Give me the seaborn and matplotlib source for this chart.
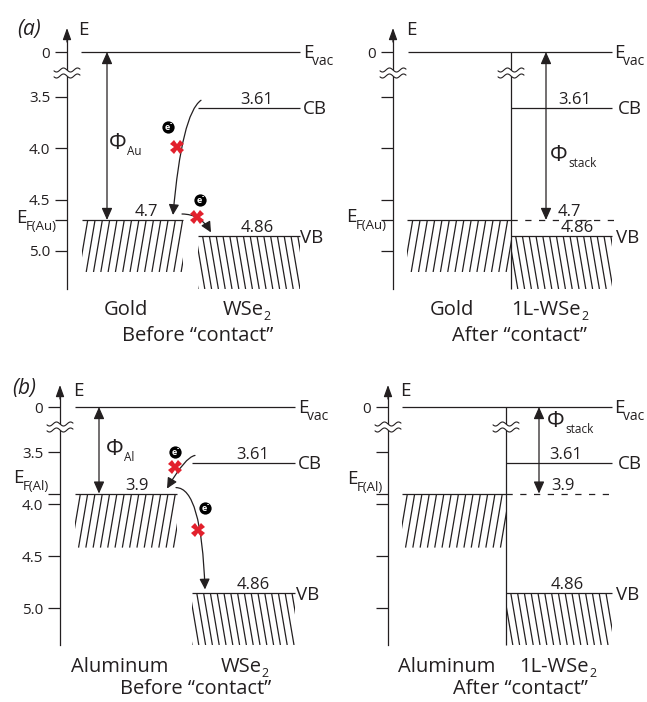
import numpy as np
import matplotlib
matplotlib.use("Agg")
import matplotlib.pyplot as plt
from matplotlib.patches import FancyArrowPatch, Rectangle
from matplotlib.collections import LineCollection
import seaborn as sns

# ---------------- data ----------------
panel_tags = ["(a)", "(b)"]
metals = ["Gold", "Aluminum"]
metal_sub = ["Au", "Al"]
metal_ef = [4.7, 3.9]
metal_ef_labels = ["4.7", "3.9"]
wse2_cb = 3.61
wse2_vb = 4.86
wse2_cb_label = "3.61"
wse2_vb_label = "4.86"
vacuum = 0.0
tick_values = [0.0, 3.5, 4.0, 4.5, 5.0]
tick_labels = ["0", "3.5", "4.0", "4.5", "5.0"]
semi_names = [("WSe", "2"), ("1L-WSe", "2")]
captions = ["Before \u201ccontact\u201d", "After \u201ccontact\u201d"]

# ---------------- style ----------------
sns.set_theme(style="white")
plt.rcParams["font.family"] = ["Open Sans", "DejaVu Sans"]
INK = "#231f20"
RED = "#e2202c"
LW = 0.9

W, H = 647, 702
fig = plt.figure(figsize=(W / 100, H / 100), dpi=100)

ROWS = [
    dict(top=0, bot=330, e35=97, vac=52, scale=102.5, tip=28, axbot=289, brk=73,
         Ecen=30, lab_base=315, cap_base=341, tag=(29, 29), mdepth=52),
    dict(top=330, bot=702, e35=452, vac=407, scale=104.0, tip=385, axbot=645, brk=427,
         Ecen=391, lab_base=672, cap_base=694, tag=(24, 388), mdepth=54),
]

LAYOUT = [
    dict(row=0, after=False, x0=0, x1=323, axis=67, vac=(81, 300), metal=(82, 183), semi=(198, 300),
         phi=107, phi_lab=(109, 149), E_lab=78, evac_lab=303, cb_cx=257, cb_lab=303, vb_cx=257,
         vb_lab=300, ef_lab=16, ef_base=223, ef_val=(146, "center"), metal_cx=126, semi_cx=247,
         cap_cx=198, electrons=[(168, 127), (200, 200)], crosses=[(177, 147), (197, 217)],
         angles=[(35, 85), (0, 120)]),
    dict(row=0, after=True, x0=323, x1=647, axis=393, vac=(408, 612), metal=(407, 511), semi=(511, 612),
         iface=511, dash=(511, 617), phi=546, phi_lab=(550, 161), E_lab=406, evac_lab=614, cb_cx=575,
         cb_lab=618, vb_cx=577, vb_lab=616, ef_lab=346, ef_base=222, ef_val=(558, "left"),
         metal_cx=452, semi_cx=550, cap_cx=519),
    dict(row=1, after=False, x0=0, x1=323, axis=60, vac=(75, 295), metal=(75, 177), semi=(192, 295),
         phi=99, phi_lab=(106, 455), E_lab=73, evac_lab=298, cb_cx=253, cb_lab=298, vb_cx=253,
         vb_lab=296, ef_lab=13, ef_base=483, ef_val=(137, "center"), metal_cx=120, semi_cx=245,
         cap_cx=196, electrons=[(175, 452), (205, 508)], crosses=[(175, 467), (198, 530)],
         angles=[(10, 60), (0, 92)]),
    dict(row=1, after=True, x0=323, x1=647, axis=388, vac=(402, 612), metal=(402, 506), semi=(506, 612),
         iface=506, dash=(506, 612), phi=539, phi_lab=(547, 427), E_lab=400, evac_lab=614, cb_cx=566,
         cb_lab=618, vb_cx=567, vb_lab=616, ef_lab=347, ef_base=484, ef_val=(551, "left"),
         metal_cx=447, semi_cx=558, cap_cx=520),
]


def px2y(py, r):
    return 3.5 + (py - r["e35"]) / r["scale"]


def Y(E, r):
    return px2y(r["vac"], r) if E == 0 else E


def E2px(E, r):
    return r["vac"] if E == 0 else r["e35"] + (E - 3.5) * r["scale"]


def label_sub(ax, r, x, base_px, main, sub, fs, sfs, drop, ha="left", gap=0.0):
    t = ax.text(x, px2y(base_px, r), main, fontsize=fs, ha=ha, va="baseline", color=INK)
    ax.annotate(sub, xy=(1, px2y(base_px + drop, r)), xycoords=(t, "data"),
                xytext=(gap, 0), textcoords="offset points", fontsize=sfs,
                ha="left", va="baseline", color=INK)
    return t


def hatch(ax, r, x0, x1, py_top, depth, lean, spacing):
    slope = 0.17
    shift = slope * depth
    py_bot = py_top + depth
    segs = []
    for xt in np.arange(x0 - shift - spacing, x1 + shift + spacing, spacing):
        segs.append([(xt, px2y(py_top, r)), (xt - lean * shift, px2y(py_bot, r))])
    lc = LineCollection(segs, colors=INK, linewidths=0.9, zorder=2)
    ax.add_collection(lc)
    clip = Rectangle((x0, px2y(py_top, r)), x1 - x0, px2y(py_bot, r) - px2y(py_top, r),
                     transform=ax.transData)
    lc.set_clip_path(clip)


def draw_break(ax, r, x):
    xs = np.linspace(-13, 13, 80)
    w = 2.0 * np.sin(2 * np.pi * xs / 14)
    py = r["brk"]
    y1 = px2y(py - 3 + w, r)
    y2 = px2y(py + 3 + w, r)
    ax.fill_between(x + xs, y1, y2, color="white", lw=0, zorder=5)
    ax.plot(x + xs, y1, color=INK, lw=0.8, zorder=6)
    ax.plot(x + xs, y2, color=INK, lw=0.8, zorder=6)


def electron(ax, r, x, py):
    ax.scatter([x], [px2y(py, r)], s=78, color="black", linewidths=0, zorder=8)
    ax.text(x - 0.5, px2y(py + 0.5, r), "e", color="white", fontsize=6.5, fontweight="bold",
            ha="center", va="center", zorder=9)
    ax.text(x + 2.8, px2y(py - 3.2, r), "-", color="white", fontsize=5, fontweight="bold",
            ha="center", va="center", zorder=9)


for P in LAYOUT:
    r = ROWS[P["row"]]
    k = P["row"]
    ef = metal_ef[k]
    ax = fig.add_axes([P["x0"] / W, 1 - r["bot"] / H, (P["x1"] - P["x0"]) / W, (r["bot"] - r["top"]) / H])
    ax.set_xlim(P["x0"], P["x1"])
    ax.set_ylim(px2y(r["bot"], r), px2y(r["top"], r))
    ax.patch.set_visible(False)
    for s in ax.spines.values():
        s.set_visible(False)
    ax.set_xticks([])

    # energy axis
    sp = ax.spines["left"]
    sp.set_visible(True)
    sp.set_position(("data", P["axis"]))
    sp.set_bounds(px2y(r["axbot"], r), px2y(r["tip"] + 8, r))
    sp.set_color(INK)
    sp.set_linewidth(LW)
    lab_map = dict(zip(tick_values, tick_labels))
    tv = sorted(tick_values + [ef])
    ax.set_yticks([Y(v, r) for v in tv])
    if P["after"]:
        ax.set_yticklabels([lab_map[v] if v == vacuum else "" for v in tv])
    else:
        ax.set_yticklabels([lab_map.get(v, "") for v in tv])
    ax.tick_params(axis="y", direction="out", length=8.6, width=LW, pad=3.5,
                   labelsize=11, colors=INK, left=True)
    ax.annotate("", xy=(P["axis"], px2y(r["tip"], r)), xytext=(P["axis"], px2y(r["tip"] + 14, r)),
                arrowprops=dict(arrowstyle="-|>,head_length=0.5,head_width=0.18", mutation_scale=14,
                                lw=LW, color=INK, shrinkA=0, shrinkB=0))
    ax.text(P["E_lab"], px2y(r["Ecen"], r), "E", fontsize=13.5, color=INK, ha="left", va="center")
    draw_break(ax, r, P["axis"])

    # levels
    ax.hlines(Y(vacuum, r), *P["vac"], color=INK, lw=LW, zorder=3)
    label_sub(ax, r, P["evac_lab"], E2px(vacuum, r) + 6, "E", "vac", 13.5, 10, 7, gap=-0.8)
    ax.hlines(ef, *P["metal"], color=INK, lw=LW, zorder=3)
    hatch(ax, r, P["metal"][0], P["metal"][1], E2px(ef, r), r["mdepth"], +1, 7.3)
    ax.hlines(wse2_cb, *P["semi"], color=INK, lw=LW, zorder=3)
    ax.hlines(wse2_vb, *P["semi"], color=INK, lw=LW, zorder=3)
    hatch(ax, r, P["semi"][0], P["semi"][1], E2px(wse2_vb, r), r["axbot"] - E2px(wse2_vb, r), -1, 6.8)

    if P["after"]:
        ax.vlines(P["iface"], Y(vacuum, r), px2y(r["axbot"], r), color=INK, lw=LW, zorder=3)
        draw_break(ax, r, P["iface"])
        ax.hlines(ef, *P["dash"], color=INK, lw=LW, linestyles=(0, (5, 6)), zorder=3)

    # value labels
    ax.text(P["cb_cx"], px2y(E2px(wse2_cb, r) - 4, r), wse2_cb_label, fontsize=12, color=INK,
            ha="center", va="baseline")
    ax.text(P["vb_cx"], px2y(E2px(wse2_vb, r) - 4, r), wse2_vb_label, fontsize=12, color=INK,
            ha="center", va="baseline")
    ax.text(P["ef_val"][0], px2y(E2px(ef, r) - 4, r), metal_ef_labels[k], fontsize=12, color=INK,
            ha=P["ef_val"][1], va="baseline", zorder=7)
    ax.text(P["cb_lab"], px2y(E2px(wse2_cb, r) + 1, r), "CB", fontsize=13.5, color=INK,
            ha="left", va="center")
    ax.text(P["vb_lab"], px2y(E2px(wse2_vb, r) + 1.5, r), "VB", fontsize=13.5, color=INK,
            ha="left", va="center")
    label_sub(ax, r, P["ef_lab"], P["ef_base"], "E", "F(%s)" % metal_sub[k], 13.5, 9.5, 7, gap=-0.8)

    # work function arrow
    ax.add_patch(FancyArrowPatch((P["phi"], Y(vacuum, r)), (P["phi"], ef),
                                 arrowstyle="<|-|>,head_length=0.45,head_width=0.2", mutation_scale=16,
                                 lw=LW, color=INK, shrinkA=0, shrinkB=0, zorder=4))
    phi_name = "stack" if P["after"] else metal_sub[k]
    label_sub(ax, r, P["phi_lab"][0], P["phi_lab"][1], "\u03a6", phi_name, 16, 8.5, 6, gap=0.5)

    # bottom labels
    ax.text(P["metal_cx"], px2y(r["lab_base"], r), metals[k], fontsize=14.5, color=INK,
            ha="center", va="baseline")
    sname = semi_names[1 if P["after"] else 0]
    label_sub(ax, r, P["semi_cx"] - 4, r["lab_base"], sname[0], sname[1], 14.5, 9, 5,
              ha="center", gap=0.2)
    ax.text(P["cap_cx"], px2y(r["cap_base"], r), captions[1 if P["after"] else 0], fontsize=14.5,
            color=INK, ha="center", va="baseline")

    if not P["after"]:
        ax.text(r["tag"][0], px2y(r["tag"][1], r), panel_tags[k], fontsize=15, fontstyle="italic",
                color=INK, ha="center", va="center")
        m0, m1 = P["metal"]
        s0 = P["semi"][0]
        starts = [(s0 + 3, E2px(wse2_cb, r) - 8), (m1 - 1, E2px(ef, r) - 6)]
        ends = [(m1 - 10, E2px(ef, r) - 5), (s0 + 13, E2px(wse2_vb, r) - 4)]
        for (a, b, (angA, angB)) in zip(starts, ends, P["angles"]):
            ax.add_patch(FancyArrowPatch((a[0], px2y(a[1], r)), (b[0], px2y(b[1], r)),
                                         connectionstyle="angle3,angleA=%d,angleB=%d" % (angA, angB),
                                         arrowstyle="-|>,head_length=0.45,head_width=0.22",
                                         mutation_scale=14, lw=LW, color=INK,
                                         shrinkA=0, shrinkB=0, zorder=6))
        for (ex, ey) in P["electrons"]:
            electron(ax, r, ex, ey)
        for (cx, cy) in P["crosses"]:
            ax.plot([cx], [px2y(cy, r)], marker="X", ms=10, color=RED, mew=0, zorder=9)

fig.savefig("out.png", dpi=100)
